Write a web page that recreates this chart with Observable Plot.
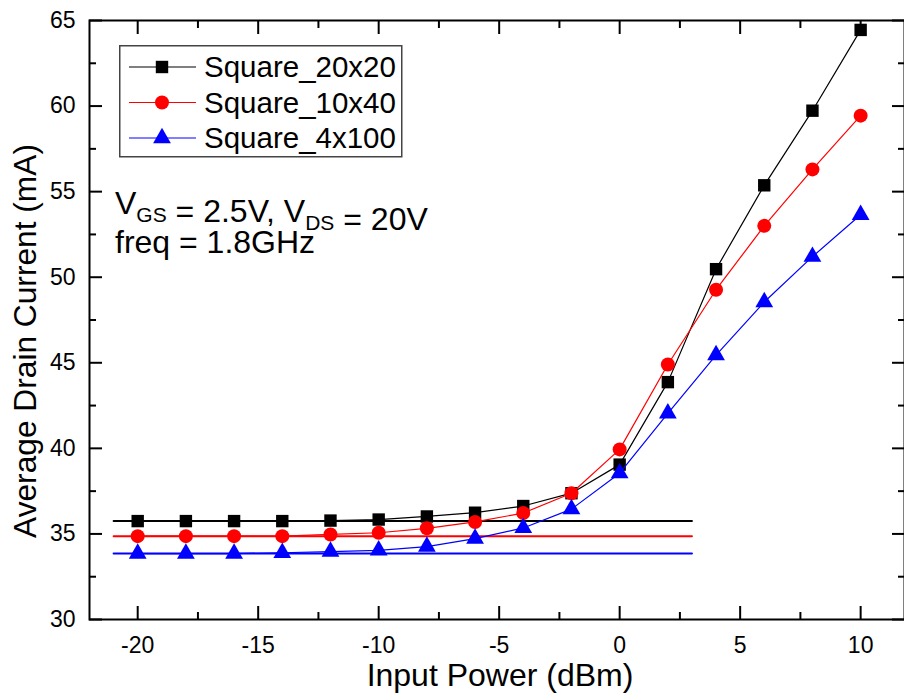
<!DOCTYPE html>
<html>
<head>
<meta charset="utf-8">
<script src="https://cdn.jsdelivr.net/npm/d3@7"></script>
<script src="https://cdn.jsdelivr.net/npm/@observablehq/plot@0.6"></script>
<style>
  html, body { margin: 0; padding: 0; background: #fff; }
  #chart { width: 904px; height: 695px; }
  svg { display: block; }
</style>
</head>
<body>
<div id="chart"></div>
<script>
// ---- data ----
const inputPower = [-20, -18, -16, -14, -12, -10, -8, -6, -4, -2, 0, 2, 4, 6, 8, 10];
const seriesNames = ["Square_20x20", "Square_10x40", "Square_4x100"];
const current20x20 = [35.75, 35.75, 35.75, 35.75, 35.78, 35.84, 36.02, 36.24, 36.63, 37.38, 39.05, 43.87, 50.47, 55.37, 59.73, 64.45];
const current10x40 = [34.87, 34.87, 34.87, 34.87, 34.97, 35.07, 35.33, 35.70, 36.22, 37.38, 39.94, 44.90, 49.27, 53.00, 56.30, 59.44];
const current4x100 = [33.85, 33.85, 33.85, 33.90, 33.97, 34.04, 34.26, 34.73, 35.35, 36.45, 38.55, 42.05, 45.45, 48.55, 51.20, 53.65];
const baselineCurrent = [35.75, 34.87, 33.85];
const baselinePower = [-21, 3];
const seriesColors = ["#000000", "#ff0000", "#0000ff"];
const seriesSymbols = ["square", "circle", "triangle"];
const seriesRadius = [7, 7, 6.6];
const xMajorTicks = [-20, -15, -10, -5, 0, 5, 10];
const xMinorTicks = [-17.5, -12.5, -7.5, -2.5, 2.5, 7.5];
const yMajorTicks = [30, 35, 40, 45, 50, 55, 60, 65];
const yMinorTicks = [32.5, 37.5, 42.5, 47.5, 52.5, 57.5, 62.5];
const xTitle = "Input Power (dBm)";
const yTitle = "Average Drain Current (mA)";
const noteLine1 = [["V", "GS"], [" = 2.5V, V", "DS"], [" = 20V", ""]];
const noteLine2 = "freq = 1.8GHz";

// ---- tables ----
const seriesValues = [current20x20, current10x40, current4x100];
const rows = seriesNames.flatMap((name, i) =>
  inputPower.map((x, j) => ({series: name, x, y: seriesValues[i][j]})));
const baseRows = seriesNames.flatMap((name, i) =>
  baselinePower.map(x => ({series: name, x, y: baselineCurrent[i]})));

const FONT = "'Liberation Sans', Arial, Helvetica, sans-serif";
const blank = () => "";
const plain = d => String(d);

const marks = [
  Plot.line(baseRows, {x: "x", y: "y", z: "series", stroke: "series", strokeWidth: 2})
];
seriesNames.forEach((name, i) => {
  const d = rows.filter(r => r.series === name);
  marks.push(Plot.line(d, {x: "x", y: "y", stroke: "series", strokeWidth: 1.2}));
  marks.push(Plot.dot(d, {x: "x", y: "y", symbol: "series", fill: "series", stroke: "none", r: seriesRadius[i]}));
});
marks.push(
  Plot.frame({stroke: "#000", strokeWidth: 2}),
  Plot.axisX({ticks: xMajorTicks, anchor: "bottom", tickSize: -13, tickPadding: 30, fontSize: 23, strokeWidth: 2, tickFormat: plain, label: null}),
  Plot.axisX({ticks: xMinorTicks, anchor: "bottom", tickSize: -7, tickFormat: blank, strokeWidth: 2, label: null}),
  Plot.axisX({ticks: xMajorTicks, anchor: "top", tickSize: -13, tickFormat: blank, strokeWidth: 2, label: null}),
  Plot.axisX({ticks: xMinorTicks, anchor: "top", tickSize: -7, tickFormat: blank, strokeWidth: 2, label: null}),
  Plot.axisY({ticks: yMajorTicks, anchor: "left", tickSize: -13, tickPadding: 27, fontSize: 23, strokeWidth: 2, tickFormat: plain, label: null}),
  Plot.axisY({ticks: yMinorTicks, anchor: "left", tickSize: -7, tickFormat: blank, strokeWidth: 2, label: null}),
  Plot.axisY({ticks: yMajorTicks, anchor: "right", tickSize: -13, tickFormat: blank, strokeWidth: 2, label: null}),
  Plot.axisY({ticks: yMinorTicks, anchor: "right", tickSize: -7, tickFormat: blank, strokeWidth: 2, label: null}),
  Plot.text([xTitle], {text: d => d, frameAnchor: "bottom", textAnchor: "middle", lineAnchor: "middle", dy: 56, dx: 3, fontSize: 32}),
  Plot.text([yTitle], {text: d => d, frameAnchor: "left", textAnchor: "middle", lineAnchor: "middle", rotate: -90, dx: -64, dy: 21, fontSize: 31.7})
);

const chart = Plot.plot({
  width: 904,
  height: 695,
  marginLeft: 89,
  marginRight: 0,
  marginTop: 20,
  marginBottom: 76,
  style: {fontFamily: FONT, background: "#fff", color: "#000", overflow: "visible"},
  x: {domain: [-22, 11.82]},
  y: {domain: [30, 65]},
  color: {domain: seriesNames, range: seriesColors},
  symbol: {domain: seriesNames, range: seriesSymbols},
  marks
});

// ---- in-plot legend and annotation ----
const svg = d3.select(chart);
const lg = svg.append("g").attr("transform", "translate(119,45)")
  .attr("font-family", FONT).attr("text-anchor", "start");
lg.append("rect").attr("x", 0.75).attr("y", 0.75).attr("width", 282).attr("height", 111)
  .attr("fill", "#fff").attr("stroke", "#444").attr("stroke-width", 1.5);
const symbolTypes = {square: d3.symbolSquare, circle: d3.symbolCircle, triangle: d3.symbolTriangle};
seriesNames.forEach((name, i) => {
  const cy = 22 + i * 35.5;
  lg.append("line").attr("x1", 10).attr("x2", 77).attr("y1", cy).attr("y2", cy)
    .attr("stroke", seriesColors[i]).attr("stroke-width", 1.2);
  lg.append("path")
    .attr("d", d3.symbol(symbolTypes[seriesSymbols[i]], Math.PI * seriesRadius[i] ** 2)())
    .attr("transform", `translate(43,${cy})`).attr("fill", seriesColors[i]);
  lg.append("text").attr("x", 85).attr("y", cy).attr("dy", "0.35em")
    .attr("font-size", 29.5).attr("fill", "#000").text(name);
});

const note = svg.append("g").attr("font-family", FONT).attr("fill", "#000").attr("text-anchor", "start");
const t1 = note.append("text").attr("x", 115).attr("y", 214).attr("font-size", 32);
noteLine1.forEach(([main, sub]) => {
  t1.append("tspan").attr("font-size", 32).text(main);
  if (sub) {
    t1.append("tspan").attr("font-size", 21).attr("dy", 8).text(sub);
    t1.append("tspan").attr("dy", -8).text("");
  }
});
note.append("text").attr("x", 115).attr("y", 253).attr("font-size", 32).text(noteLine2);

document.getElementById("chart").appendChild(chart);
</script>
</body>
</html>
